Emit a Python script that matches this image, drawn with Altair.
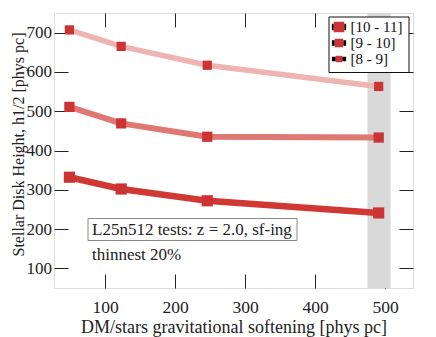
import altair as alt
import pandas as pd

# ---- data ----
softening = [49, 123, 246, 491]
series_names = ["[10 - 11]", "[9 - 10]", "[8 - 9]"]
h_10_11 = [332, 302, 272, 241]
h_9_10 = [511, 469, 435, 433]
h_8_9 = [707, 665, 617, 563]
band_lo = [475]
band_hi = [508]
x_ticks = [100, 200, 300, 400, 500]
y_ticks = [100, 200, 300, 400, 500, 600, 700]

rows = []
for name, vals in zip(series_names, [h_10_11, h_9_10, h_8_9]):
    for s, h in zip(softening, vals):
        rows.append({"soft": s, "h": h, "series": name, "series_b": name + " "})
df = pd.DataFrame(rows)
band = pd.DataFrame({"lo": band_lo, "hi": band_hi})
series_b_names = [n + " " for n in series_names]

FONT = "Liberation Serif"
RED = "#cc3333"
line_colors = ["#cf3833", "#df7772", "#eeb4b1"]
line_widths = [6.5, 5.5, 4.5]
marker_sizes = [125, 85, 50]

xs = alt.Scale(domain=[27, 540], nice=False, zero=False)
ys = alt.Scale(domain=[50, 750], nice=False, zero=False)

TICK = 14

def ax_x(orient, labels=True, title=None):
    kw = dict(orient=orient, values=x_ticks, tickSize=TICK, offset=-TICK, domain=False,
              grid=False, tickColor="#222", tickWidth=1, labels=labels)
    if labels:
        kw.update(labelFont=FONT, labelFontSize=17.5, labelColor="#222", labelPadding=10,
                  format="d")
    if title:
        kw.update(title=title, titleFont=FONT, titleFontSize=18, titleFontWeight="normal",
                  titleColor="#222", titlePadding=3)
    else:
        kw.update(title=None)
    return alt.Axis(**kw)

def ax_y(orient, labels=True, title=None):
    kw = dict(orient=orient, values=y_ticks, tickSize=TICK, offset=-TICK, domain=False,
              grid=False, tickColor="#222", tickWidth=1, labels=labels)
    if labels:
        kw.update(labelFont=FONT, labelFontSize=17, labelColor="#222", labelPadding=2.5,
                  format="d")
    if title:
        kw.update(title=title, titleFont=FONT, titleFontSize=16, titleFontWeight="normal",
                  titleColor="#222", titlePadding=0, titleY=131)
    else:
        kw.update(title=None)
    return alt.Axis(**kw)

band_layer = alt.Chart(band).mark_rect(color="#d9d9d9").encode(
    x=alt.X("lo:Q", scale=xs, axis=ax_x("bottom", True, "DM/stars gravitational softening [phys pc]")),
    x2="hi:Q",
)

line_layer = alt.Chart(df).mark_line().encode(
    x=alt.X("soft:Q", scale=xs, axis=ax_x("top", False)),
    y=alt.Y("h:Q", scale=ys, axis=ax_y("left", True, "Stellar Disk Height, h1/2 [phys pc]")),
    color=alt.Color("series:N", scale=alt.Scale(domain=series_names, range=line_colors), legend=None),
    strokeWidth=alt.StrokeWidth("series:N", scale=alt.Scale(domain=series_names, range=line_widths), legend=None),
    detail="series:N",
)

point_layer = alt.Chart(df).mark_square(filled=True, color=RED, opacity=1).encode(
    x=alt.X("soft:Q", scale=xs, axis=None),
    y=alt.Y("h:Q", scale=ys, axis=ax_y("right", False)),
    size=alt.Size("series:N", scale=alt.Scale(domain=series_names, range=marker_sizes), legend=None),
)

# legend background box
legend_box = alt.Chart(band).mark_rect(fill="white", stroke="#111", strokeWidth=1).encode(
    x=alt.value(275), x2=alt.value(355), y=alt.value(4), y2=alt.value(59.5)
)

# annotation box
note_box = alt.Chart(band).mark_rect(fill="white", stroke="#888", strokeWidth=1).encode(
    x=alt.value(34), x2=alt.value(243), y=alt.value(205.5), y2=alt.value(227.5)
)
note1 = alt.Chart(band).mark_text(font=FONT, fontSize=17, align="left", baseline="middle", color="#222").encode(
    x=alt.value(38), y=alt.value(216.5), text=alt.value("L25n512 tests: z = 2.0, sf-ing")
)
note2 = alt.Chart(band).mark_text(font=FONT, fontSize=17, align="left", baseline="middle", color="#222").encode(
    x=alt.value(38), y=alt.value(241.5), text=alt.value("thinnest 20%")
)

# legend symbols: line part (with a gap) and square part, per entry
half_len = 0.95
line_half = [0.44, 0.37, 0.30]
sq_half = [0.70, 0.57, 0.43]
paths_line = [
    f"M-{half_len},-{t}H-{s}V{t}H-{half_len}Z M{s},-{t}H{half_len}V{t}H{s}Z"
    for t, s in zip(line_half, sq_half)
]
paths_sq = [f"M-{s},-{s}H{s}V{s}H-{s}Z" for s in sq_half]

LEG = dict(title=None, orient="none", legendX=275, legendY=4, padding=2.5,
           symbolSize=225, symbolOpacity=1, symbolStrokeWidth=0, rowPadding=0,
           labelFont=FONT, labelFontSize=15, labelOffset=4)

legA = alt.Chart(df).mark_point(filled=True, opacity=0, size=225).encode(
    shape=alt.Shape("series:N", scale=alt.Scale(domain=series_names, range=paths_line),
                    legend=alt.Legend(labelColor="#111", **LEG)),
    fill=alt.Fill("series:N", scale=alt.Scale(domain=series_names, range=line_colors),
                  legend=alt.Legend(labelColor="#111", **LEG)),
)
legB = alt.Chart(df).mark_point(filled=True, opacity=0, size=225, fill=RED).encode(
    shape=alt.Shape("series_b:N", scale=alt.Scale(domain=series_b_names, range=paths_sq),
                    legend=alt.Legend(labelOpacity=0, symbolFillColor=RED, **LEG)),
)

chart = alt.layer(
    band_layer, legend_box, line_layer, point_layer, note_box, note1, note2, legA, legB
).resolve_scale(
    shape="independent"
).resolve_axis(
    x="independent", y="independent"
).properties(
    width=359, height=275,
    autosize=alt.AutoSizeParams(type="none"),
    padding={"left": 46, "top": 5, "right": 15, "bottom": 49},
).configure_view(
    stroke="#333", strokeWidth=1.3
).configure(font=FONT)

chart.save("out.html", embed_options={"renderer": "svg", "actions": False})
